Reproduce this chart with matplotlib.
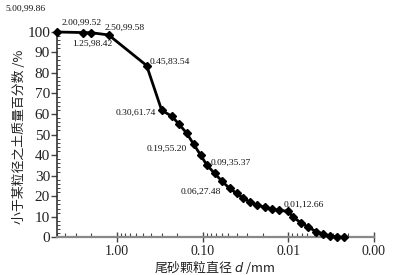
import matplotlib
matplotlib.use('Agg')
from matplotlib import pyplot as plt
from matplotlib.ticker import LogLocator, NullFormatter, FixedLocator, MultipleLocator

# particle size d (mm) and cumulative percent finer
size_mm = [5.00, 2.50, 2.00, 1.25, 0.45, 0.30, 0.229, 0.19, 0.153, 0.127, 0.105,
           0.09, 0.0725, 0.06, 0.0485, 0.0402, 0.0334, 0.0277, 0.0229, 0.0185,
           0.0153, 0.0127, 0.01, 0.00875, 0.00706, 0.00585, 0.00472, 0.00392,
           0.00325, 0.00269, 0.00223]
pct_finer = [99.86, 99.58, 99.52, 98.42, 83.54, 61.74, 58.9, 55.20, 50.6, 45.2, 39.9,
             35.37, 31.1, 27.48, 23.8, 21.4, 19.0, 17.0, 15.6, 14.6,
             13.6, 13.1, 12.66, 9.7, 7.0, 4.9, 2.8, 1.6, 0.6, 0.2, 0.0]

# labelled points: text and position in figure pixels (x, y from top)
point_labels = ['5.00,99.86', '2.00,99.52', '1.25,98.42', '2.50,99.58', '0.45,83.54',
                '0.30,61.74', '0.19,55.20', '0.09,35.37', '0.06,27.48', '0.01,12.66']
label_px = [(5, 9), (62, 23), (72, 44), (105, 28), (150, 62),
            (116, 113), (147, 149), (211, 163), (181, 192), (284, 205)]

x_ticks = [1.0, 0.1, 0.01, 0.001]
x_ticklabels = ['1.00', '0.10', '0.01', '0.00']

W, H = 396, 275
fig = plt.figure(figsize=(W / 100, H / 100), dpi=100)
ax = fig.add_axes([57 / W, 1 - 237.3 / H, (374 - 57) / W, (237.3 - 31.7) / H])

ax.plot(size_mm, pct_finer, color='black', lw=2.0, marker='D', ms=3.8,
        mfc='black', mec='black', clip_on=False, zorder=3)

ax.set_xscale('log')
ax.set_xlim(5.0, 0.001)
ax.set_ylim(0, 100)

serif = 'Liberation Serif'
ax.xaxis.set_major_locator(FixedLocator(x_ticks))
ax.set_xticklabels(x_ticklabels, fontfamily=serif, fontsize=10)
ax.xaxis.set_minor_locator(LogLocator(base=10, subs=range(2, 10), numticks=20))
ax.xaxis.set_minor_formatter(NullFormatter())
ax.tick_params(axis='x', which='major', direction='inout', length=7, width=1, colors='#444444', pad=2)
ax.tick_params(axis='x', which='minor', direction='in', length=3, width=0.8, colors='#444444')
ax.tick_params(axis='x', labelcolor='#222222')

ax.yaxis.set_major_locator(MultipleLocator(10))
ax.yaxis.set_minor_locator(MultipleLocator(2))
ax.tick_params(axis='y', which='major', direction='out', length=4, width=1, colors='#444444',
               labelsize=11, pad=1)
ax.tick_params(axis='y', which='minor', direction='in', length=2, width=0.7, colors='#444444')
ax.tick_params(axis='y', labelcolor='#222222')
plt.setp(ax.get_yticklabels(), fontfamily=serif)

ax.spines['top'].set_visible(False)
ax.spines['right'].set_visible(False)
ax.spines['left'].set_color('#333333')
ax.spines['bottom'].set_color('#888888')
ax.spines['left'].set_linewidth(1.2)
ax.spines['bottom'].set_linewidth(1.6)

for txt, (px, py) in zip(point_labels, label_px):
    fig.text(px / W, 1 - py / H, txt, fontfamily=serif, fontsize=6.8,
             ha='left', va='center', color='#111111')

fig.text(19 / W, 1 - 137 / H, '小于某粒径之土质量百分数 /%', rotation=90,
         family=['Noto Sans CJK SC', 'DejaVu Sans'], fontsize=9.3,
         ha='center', va='center', color='#222222')
fig.text(215 / W, 1 - 267 / H, '尾砂颗粒直径 $\\it{d}$ /mm',
         family=['Noto Sans CJK SC', 'DejaVu Sans'], fontsize=9.3,
         ha='center', va='center', color='#222222')

fig.savefig('out.png', dpi=100)
